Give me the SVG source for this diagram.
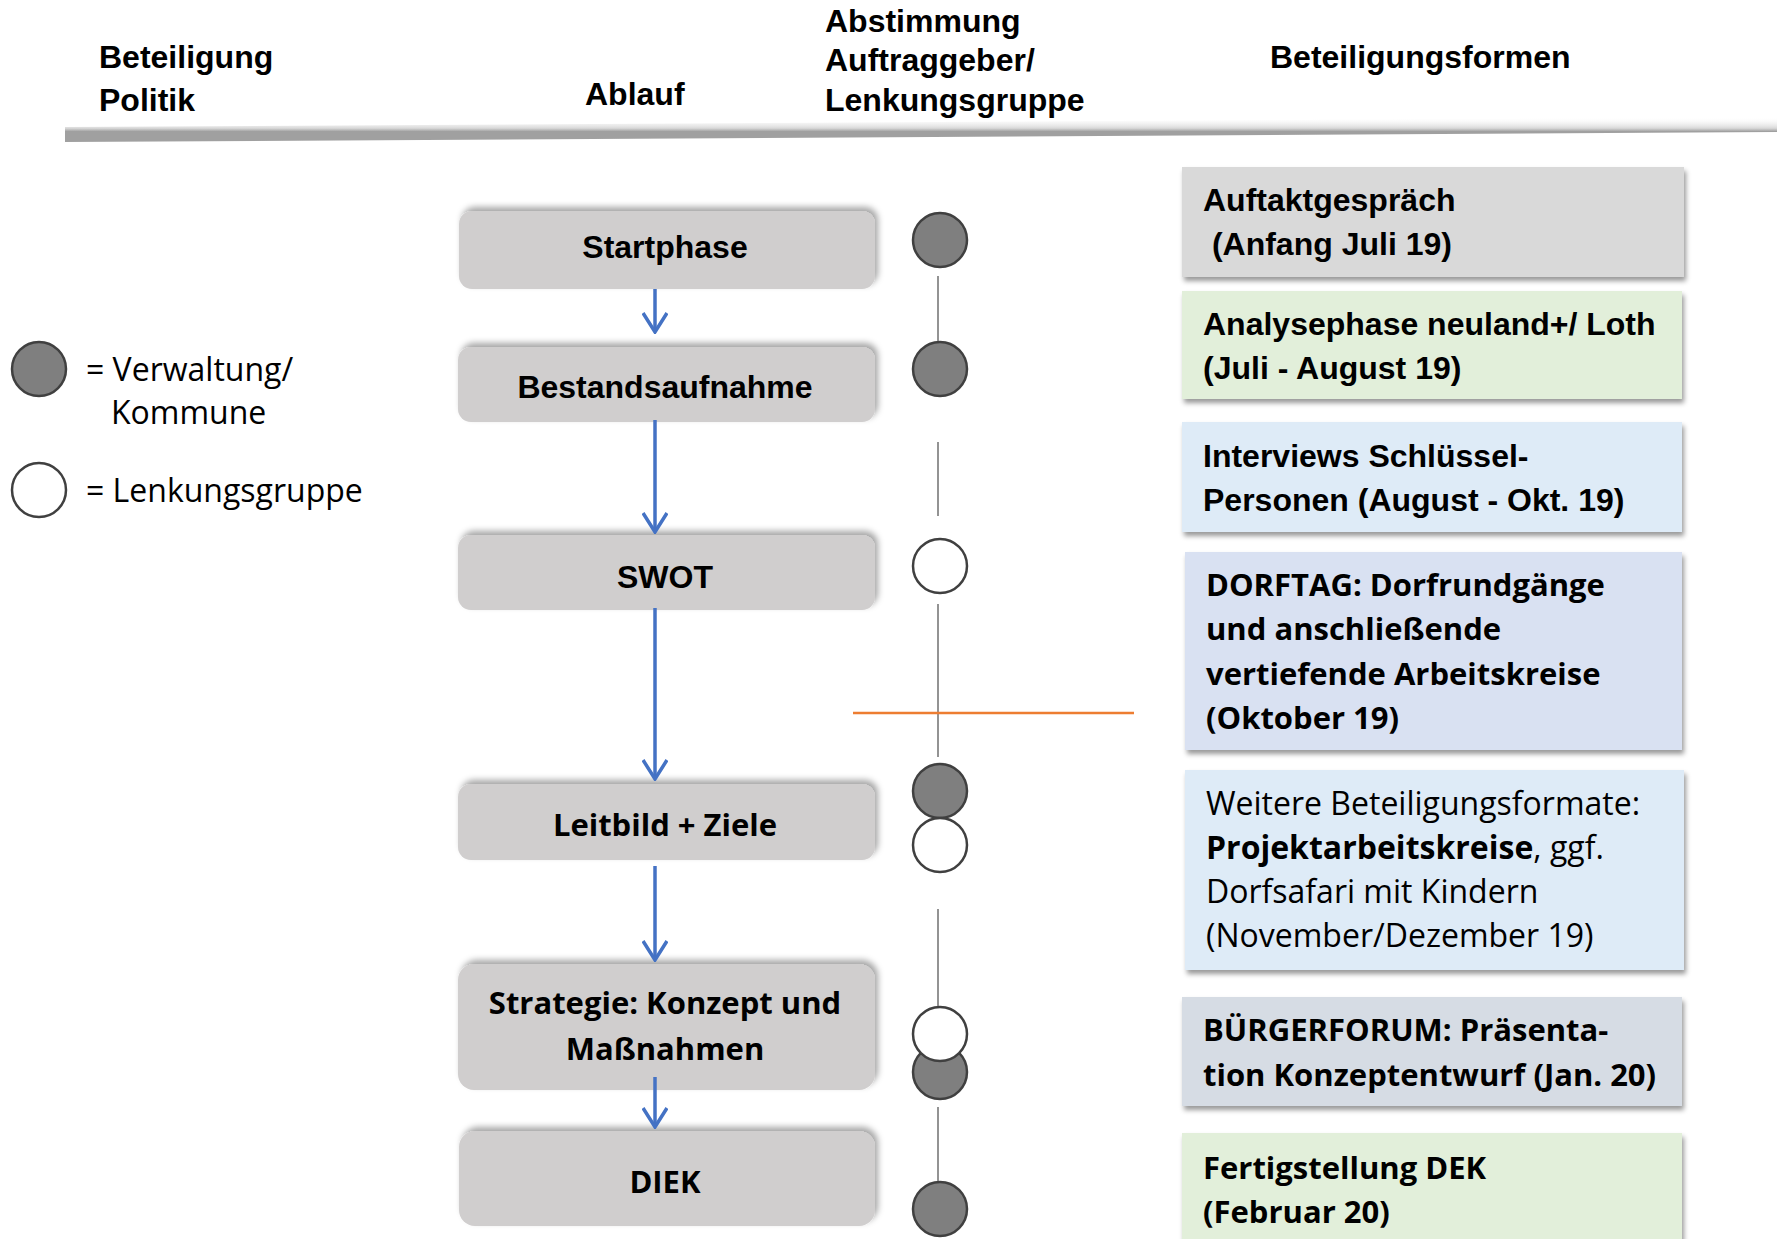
<svg xmlns="http://www.w3.org/2000/svg" width="1777" height="1239" viewBox="0 0 1777 1239">
<defs>
<filter id="shUp" x="-10%" y="-30%" width="120%" height="160%">
<feDropShadow dx="3" dy="-4" stdDeviation="3" flood-color="#000" flood-opacity="0.35"/>
</filter>
<filter id="shDown" x="-10%" y="-20%" width="120%" height="150%">
<feDropShadow dx="2" dy="4" stdDeviation="2.5" flood-color="#000" flood-opacity="0.4"/>
</filter>
<linearGradient id="hdr" x1="0" y1="0" x2="0" y2="1">
<stop offset="0" stop-color="#ffffff" stop-opacity="0"/>
<stop offset="0.45" stop-color="#d8d8d8"/>
<stop offset="0.58" stop-color="#a0a0a0"/>
<stop offset="1" stop-color="#a0a0a0"/>
</linearGradient>
<marker id="arr" viewBox="0 0 22 26" refX="20" refY="13" markerWidth="22" markerHeight="26" markerUnits="userSpaceOnUse" orient="auto">
<path d="M1,1 L20,13 L1,25" fill="none" stroke="#4472c4" stroke-width="3.5"/>
</marker>
</defs>
<style>
.hd{font-family:"Liberation Sans",Arial,sans-serif;font-weight:bold;font-size:32px;fill:#000}
.cb{font-family:"Liberation Sans",Arial,sans-serif;font-weight:bold;font-size:32px;fill:#000}
.ob{font-family:"Open Sans","DejaVu Sans",sans-serif;font-weight:bold;font-size:31px;fill:#000}
.or{font-family:"Open Sans","DejaVu Sans",sans-serif;font-weight:normal;font-size:32px;fill:#000}
.pb{fill:#d0cece;filter:url(#shUp)}
.rb{filter:url(#shDown)}
.cg{fill:#7f7f7f;stroke:#404040;stroke-width:2.5}
.cw{fill:#ffffff;stroke:#404040;stroke-width:2.5}
.vl{stroke:#595959;stroke-width:1.3;fill:none}
.fl{stroke:#4472c4;stroke-width:3.5;fill:none;marker-end:url(#arr)}
</style>
<rect width="1777" height="1239" fill="#ffffff"/>

<g id="header">
<polygon points="65,127 1777,117 1777,132 65,142" fill="url(#hdr)"/>
<text class="hd" x="99" y="68">Beteiligung</text>
<text class="hd" x="99" y="111">Politik</text>
<text class="hd" x="585" y="105">Ablauf</text>
<text class="hd" x="825" y="32">Abstimmung</text>
<text class="hd" x="825" y="71">Auftraggeber/</text>
<text class="hd" x="825" y="111">Lenkungsgruppe</text>
<text class="hd" x="1270" y="68">Beteiligungsformen</text>
</g>

<g id="legend">
<circle class="cg" cx="39" cy="369" r="27"/>
<text class="or" x="86" y="381">= Verwaltung/</text>
<text class="or" x="111" y="424">Kommune</text>
<circle class="cw" cx="39" cy="490" r="27"/>
<text class="or" x="86" y="502">= Lenkungsgruppe</text>
</g>

<g id="startphase">
<rect class="pb" x="459" y="211" width="416" height="78" rx="13"/>
<text class="cb" x="665" y="258" text-anchor="middle">Startphase</text>
</g>
<g id="bestandsaufnahme">
<rect class="pb" x="458" y="347" width="417" height="75" rx="13"/>
<text class="cb" x="665" y="398" text-anchor="middle">Bestandsaufnahme</text>
</g>
<g id="swot">
<rect class="pb" x="458" y="535" width="417" height="75" rx="13"/>
<text class="cb" x="665" y="588" text-anchor="middle">SWOT</text>
</g>
<g id="leitbild">
<rect class="pb" x="458" y="784" width="417" height="76" rx="13"/>
<text class="ob" x="665" y="836" text-anchor="middle">Leitbild + Ziele</text>
</g>
<g id="strategie">
<rect class="pb" x="458" y="964" width="417" height="126" rx="16"/>
<text class="ob" x="665" y="1014" text-anchor="middle">Strategie: Konzept und</text>
<text class="ob" x="665" y="1060" text-anchor="middle">Maßnahmen</text>
</g>
<g id="diek">
<rect class="pb" x="459" y="1131" width="416" height="95" rx="16"/>
<text class="ob" x="665" y="1193" text-anchor="middle">DIEK</text>
</g>

<g id="connectors">
<line class="fl" x1="655" y1="289" x2="655" y2="332"/>
<line class="fl" x1="655" y1="420" x2="655" y2="532"/>
<line class="fl" x1="655" y1="608" x2="655" y2="779"/>
<line class="fl" x1="655" y1="866" x2="655" y2="960"/>
<line class="fl" x1="655" y1="1077" x2="655" y2="1127"/>
<line class="vl" x1="938" y1="276" x2="938" y2="342"/>
<line class="vl" x1="938" y1="442" x2="938" y2="516"/>
<line class="vl" x1="938" y1="604" x2="938" y2="757"/>
<line class="vl" x1="938" y1="909" x2="938" y2="1008"/>
<line class="vl" x1="938" y1="1107" x2="938" y2="1184"/>
<line x1="853" y1="713" x2="1134" y2="713" stroke="#ed7d31" stroke-width="2.5"/>
</g>

<g id="abstimmung">
<circle class="cg" cx="940" cy="240" r="27"/>
<circle class="cg" cx="940" cy="369" r="27"/>
<circle class="cw" cx="940" cy="566" r="27"/>
<circle class="cg" cx="940" cy="791" r="27"/>
<circle class="cw" cx="940" cy="845" r="27"/>
<circle class="cg" cx="940" cy="1072" r="27"/>
<circle class="cw" cx="940" cy="1034" r="27"/>
<circle class="cg" cx="940" cy="1209" r="27"/>
</g>

<g id="auftakt">
<rect class="rb" x="1182" y="167" width="502" height="110" fill="#d9d9d9"/>
<text class="cb" x="1203" y="211">Auftaktgespräch</text>
<text class="cb" x="1203" y="255" xml:space="preserve"> (Anfang Juli 19)</text>
</g>
<g id="analyse">
<rect class="rb" x="1182" y="291" width="500" height="108" fill="#e2efda"/>
<text class="cb" x="1203" y="335">Analysephase neuland+/ Loth</text>
<text class="cb" x="1203" y="379">(Juli - August 19)</text>
</g>
<g id="interviews">
<rect class="rb" x="1182" y="422" width="500" height="110" fill="#deebf7"/>
<text class="cb" x="1203" y="467">Interviews Schlüssel-</text>
<text class="cb" x="1203" y="511">Personen (August - Okt. 19)</text>
</g>
<g id="dorftag">
<rect class="rb" x="1185" y="552" width="497" height="198" fill="#d9e1f2"/>
<text class="ob" x="1206" y="596">DORFTAG: Dorfrundgänge</text>
<text class="ob" x="1206" y="640">und anschließende</text>
<text class="ob" x="1206" y="685">vertiefende Arbeitskreise</text>
<text class="ob" x="1206" y="729">(Oktober 19)</text>
</g>
<g id="weitere">
<rect class="rb" x="1185" y="770" width="499" height="200" fill="#deebf7"/>
<text class="or" x="1206" y="815">Weitere Beteiligungsformate:</text>
<text class="or" x="1206" y="859"><tspan font-weight="bold">Projektarbeitskreise</tspan>, ggf.</text>
<text class="or" x="1206" y="903">Dorfsafari mit Kindern</text>
<text class="or" x="1206" y="947">(November/Dezember 19)</text>
</g>
<g id="buergerforum">
<rect class="rb" x="1182" y="997" width="500" height="109" fill="#d6dce4"/>
<text class="ob" x="1203" y="1041">BÜRGERFORUM: Präsenta-</text>
<text class="ob" x="1203" y="1086">tion Konzeptentwurf (Jan. 20)</text>
</g>
<g id="fertigstellung">
<rect class="rb" x="1182" y="1133" width="500" height="120" fill="#e2efda"/>
<text class="ob" x="1203" y="1179">Fertigstellung DEK</text>
<text class="ob" x="1203" y="1223">(Februar 20)</text>
</g>
</svg>
